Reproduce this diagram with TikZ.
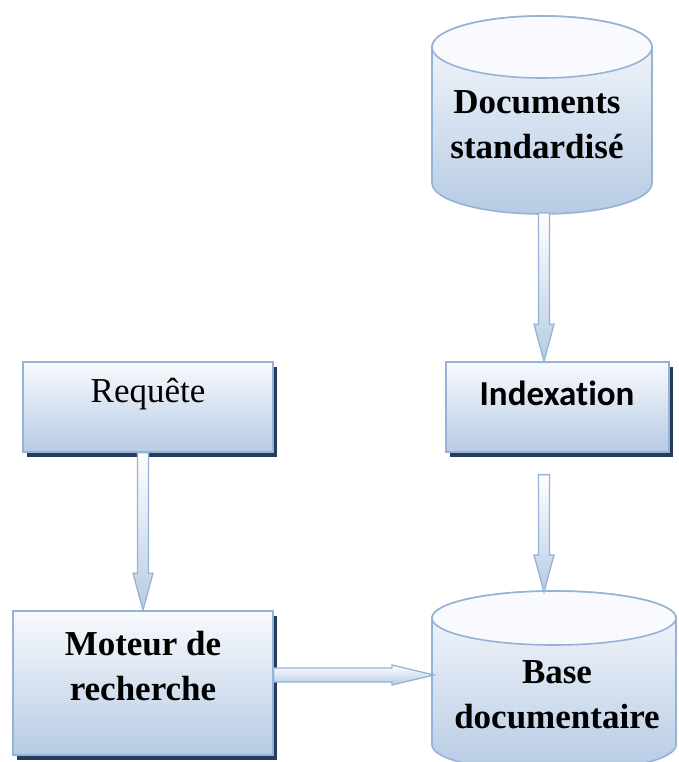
\documentclass[tikz,border=0pt]{standalone}
\usepackage{fontspec}
\setmainfont{Liberation Serif}
\newfontfamily\calibfont[Ligatures=NoCommon]{Carlito}
\usetikzlibrary{calc,shadows}

\definecolor{edgeblue}{RGB}{149,179,215}
\definecolor{paleblue}{RGB}{248,250,253}
\definecolor{deepblue}{RGB}{183,203,228}
\definecolor{navyshadow}{RGB}{38,60,92}

\tikzset{
  box/.style={draw=edgeblue, line width=1.6pt, top color=paleblue, bottom color=deepblue,
    inner sep=0pt, general shadow={fill=navyshadow, shadow xshift=4pt, shadow yshift=-5pt}},
  drumbody/.style={draw=edgeblue, line width=1.6pt, top color=paleblue, bottom color=deepblue},
  drumlid/.style={draw=edgeblue, line width=1.6pt, fill=paleblue},
  blockarrow/.style={draw=edgeblue, line width=1.3pt, top color=white, bottom color=deepblue, line join=miter},
  txt/.style={align=center, inner sep=0pt, font=\fontsize{35}{45}\selectfont\bfseries},
}

% cylinder: centre x, top y, bottom y, x radius, y radius
\newcommand\drum[5]{%
  \path[drumbody] (#1-#4,#2) -- (#1-#4,#3)
    arc[start angle=180, end angle=360, x radius=#4pt, y radius=#5pt]
    -- (#1+#4,#2)
    arc[start angle=0, end angle=180, x radius=#4pt, y radius=#5pt] -- cycle;
  \path[drumlid] (#1,#2) ellipse[x radius=#4pt, y radius=#5pt];
}

% block arrow pointing down, from #1 to the height of #2
\newcommand\blockdown[2]{%
  \path[blockarrow] let \p1=(#1), \p2=(#2) in
    (\x1-5.5pt,\y1) -- (\x1+5.5pt,\y1) -- (\x1+5.5pt,\y2+37pt) -- (\x1+10pt,\y2+37pt)
    -- (\x1,\y2) -- (\x1-10pt,\y2+37pt) -- (\x1-5.5pt,\y2+37pt) -- cycle;
}

% block arrow pointing right, from #1 to the abscissa of #2
\newcommand\blockright[2]{%
  \path[blockarrow] let \p1=(#1), \p2=(#2) in
    (\x1,\y1+7pt) -- (\x2-42pt,\y1+7pt) -- (\x2-42pt,\y1+10pt) -- (\x2,\y1)
    -- (\x2-42pt,\y1-10pt) -- (\x2-42pt,\y1-7pt) -- (\x1,\y1-7pt) -- cycle;
}

\begin{document}
\begin{tikzpicture}[x=1pt, y=-1pt]
  \useasboundingbox (0,0) rectangle (678,762);
  \clip (0,0) rectangle (678,762);

  % stores
  \drum{542}{47}{183}{110}{31}
  \drum{554}{618}{745}{122}{27}
  \coordinate (docB) at (544,213);
  \coordinate (baseTop) at (544,592);
  \coordinate (baseIn) at (434,675);

  % processing boxes
  \node[box, minimum width=250pt, minimum height=90pt] (req) at (148,407) {};
  \node[box, minimum width=223pt, minimum height=90pt] (idx) at (557.5,407) {};
  \node[box, minimum width=260pt, minimum height=144pt] (mot) at (143,683) {};

  % labels
  \node[txt] (docT) at (537,125) {Documents\\standardisé};
  \node[txt, font=\fontsize{35}{45}\selectfont] (reqT) at (148,394) {Requête};
  \node[txt, font=\calibfont\fontsize{35}{40}\selectfont\bfseries] (idxT) at (557,393) {Indexation};
  \node[txt] (motT) at (143,666) {Moteur de\\recherche};
  \node[txt] (baseT) at (557,695) {Base\\documentaire};

  % flows
  \coordinate (idxOut) at ($(idx.south -| docB)+(0,22)$);
  \coordinate (motOut) at ($(mot.east)+(0,-8)$);
  \blockdown{docB}{idx.north -| docB}
  \blockdown{idxOut}{baseTop}
  \blockdown{mot.north |- req.south}{mot.north}
  \blockright{motOut}{baseIn}
\end{tikzpicture}
\end{document}
